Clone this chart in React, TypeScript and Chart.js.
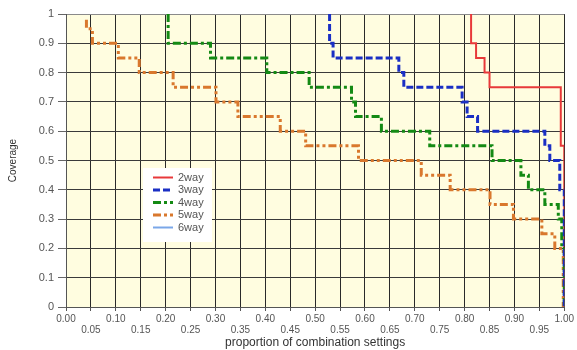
import React, { useEffect, useRef } from 'react';
import { Chart, registerables } from 'chart.js';
Chart.register(...registerables);

// Series names
const seriesNames = ['2way', '3way', '4way', '5way', '6way'];

// Step-curve data: proportion of combination settings (x) vs coverage (y)
const x2 = [0.813, 0.813, 0.823, 0.84, 0.85, 0.993, 1.0];
const y2 = [1.0, 0.9, 0.85, 0.8, 0.75, 0.55, 0];

const x3 = [0.529, 0.529, 0.536, 0.668, 0.678, 0.795, 0.805, 0.826, 0.961, 0.971, 0.991, 1.0];
const y3 = [1.0, 0.9, 0.85, 0.8, 0.75, 0.7, 0.65, 0.6, 0.55, 0.5, 0.4, 0];

const x4 = [0.205, 0.205, 0.29, 0.403, 0.488, 0.573, 0.581, 0.633, 0.73, 0.855, 0.913, 0.928, 0.961, 0.988, 0.995, 1.0];
const y4 = [1.0, 0.9, 0.85, 0.8, 0.75, 0.7, 0.65, 0.6, 0.55, 0.5, 0.45, 0.4, 0.35, 0.3, 0.2, 0];

const x5 = [0.041, 0.041, 0.053, 0.105, 0.147, 0.215, 0.301, 0.345, 0.43, 0.481, 0.587, 0.713, 0.771, 0.851, 0.898, 0.955, 0.981, 0.998];
const y5 = [0.98, 0.95, 0.9, 0.85, 0.8, 0.75, 0.7, 0.65, 0.6, 0.55, 0.5, 0.45, 0.4, 0.35, 0.3, 0.25, 0.2, 0];

const x6 = [1.0, 1.0];
const y6 = [0.2, 0];

const xTickStep = 0.05;
const yTickStep = 0.1;

const FONT = '"Liberation Sans", Arial, sans-serif';

const pts = (xs: number[], ys: number[]) => xs.map((x, i) => ({ x, y: ys[i] }));

const bgPlugin = {
  id: 'bgPlugin',
  beforeDraw(chart: any) {
    const { ctx, chartArea, width, height } = chart;
    ctx.save();
    ctx.fillStyle = '#ffffff';
    ctx.fillRect(0, 0, width, height);
    ctx.fillStyle = '#fffde0';
    ctx.fillRect(chartArea.left, chartArea.top, chartArea.right - chartArea.left, chartArea.bottom - chartArea.top);
    ctx.restore();
  },
};

const legendPlugin = {
  id: 'boxLegend',
  afterDatasetsDraw(chart: any) {
    const { ctx, chartArea } = chart;
    const bx = chartArea.left + 77;
    const by = chartArea.top + 154;
    ctx.save();
    ctx.fillStyle = '#ffffff';
    ctx.fillRect(bx, by, 69, 74);
    chart.data.datasets.forEach((ds: any, i: number) => {
      const y = by + 9.5 + i * 12.5;
      ctx.beginPath();
      ctx.setLineDash(ds.borderDash || []);
      ctx.strokeStyle = ds.borderColor;
      ctx.lineWidth = ds.borderWidth;
      ctx.moveTo(bx + 10, y);
      ctx.lineTo(bx + 30, y);
      ctx.stroke();
      ctx.setLineDash([]);
      ctx.fillStyle = '#555';
      ctx.font = '11px ' + FONT;
      ctx.textBaseline = 'middle';
      ctx.textAlign = 'left';
      ctx.fillText(ds.label, bx + 35, y);
    });
    ctx.restore();
  },
};

export default function App() {
  const ref = useRef<HTMLCanvasElement | null>(null);
  useEffect(() => {
    if (!ref.current) return;
    const common = { pointRadius: 0, pointHoverRadius: 0, fill: false, stepped: 'before' as const, tension: 0 };
    const chart = new Chart(ref.current, {
      type: 'line',
      data: {
        datasets: [
          { ...common, label: seriesNames[0], data: pts(x2, y2), borderColor: '#e8393a', borderWidth: 2, borderDash: [], order: 4 },
          { ...common, label: seriesNames[1], data: pts(x3, y3), borderColor: '#1a2fc4', borderWidth: 3, borderDash: [7, 3], order: 1 },
          { ...common, label: seriesNames[2], data: pts(x4, y4), borderColor: '#148a14', borderWidth: 3, borderDash: [8, 3, 3, 3], order: 2 },
          { ...common, label: seriesNames[3], data: pts(x5, y5), borderColor: '#d9782d', borderWidth: 3, borderDash: [8, 3, 3, 3, 3, 3], order: 3 },
          { ...common, label: seriesNames[4], data: pts(x6, y6), borderColor: '#7aa7e8', borderWidth: 2, borderDash: [], order: 5 },
        ],
      },
      options: {
        animation: false,
        responsive: false,
        maintainAspectRatio: false,
        layout: { padding: { top: 14, right: 11, left: 0, bottom: 0 } },
        plugins: { legend: { display: false }, tooltip: { enabled: false } },
        scales: {
          x: {
            type: 'linear',
            min: 0,
            max: 1,
            afterFit: (s: any) => { s.height = 43; },
            border: { color: '#555', width: 1 },
            grid: { color: '#2a2a2a', lineWidth: 1, tickLength: 4, tickColor: '#555' },
            ticks: {
              stepSize: xTickStep,
              autoSkip: false,
              maxRotation: 0,
              minRotation: 0,
              padding: 3,
              color: '#555',
              font: { family: FONT, size: 10, lineHeight: 1.07 },
              callback: (v: any, i: number) => {
                const s = Number(v).toFixed(2);
                return i % 2 === 0 ? [s, ''] : ['', s];
              },
            },
            title: {
              display: true,
              text: 'proportion of combination settings',
              color: '#333',
              font: { family: FONT, size: 12 },
              padding: { top: 0, bottom: 0 },
            },
          },
          y: {
            type: 'linear',
            min: 0,
            max: 1,
            afterFit: (s: any) => { s.width = 66; },
            border: { color: '#555', width: 1 },
            grid: {
              color: (c: any) => (c.tick && c.tick.value === 1 ? '#8a8a8a' : '#3a3a3a'),
              lineWidth: 1,
              tickLength: 8,
              tickColor: '#666',
            },
            ticks: {
              stepSize: yTickStep,
              padding: 4,
              color: '#555',
              font: { family: FONT, size: 11 },
              callback: (v: any) => String(Math.round(Number(v) * 10) / 10),
            },
            title: {
              display: true,
              text: 'Coverage',
              color: '#333',
              font: { family: FONT, size: 10 },
              padding: { top: 7, bottom: 0 },
            },
          },
        },
      },
      plugins: [bgPlugin, legendPlugin],
    });
    return () => chart.destroy();
  }, []);
  return (
    <div style={{ position: 'fixed', left: 0, top: 0, width: 577, height: 350, background: '#fff' }}>
      <canvas ref={ref} width={577} height={350} style={{ width: 577, height: 350, display: 'block' }} />
    </div>
  );
}
